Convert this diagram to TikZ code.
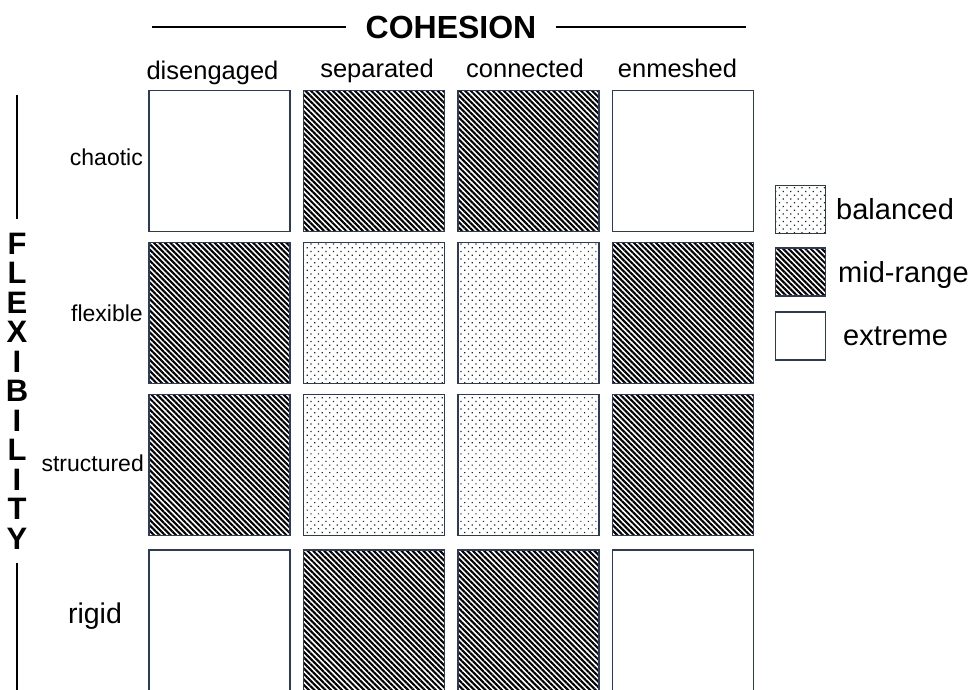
\documentclass[tikz,border=0pt]{standalone}
\usepackage{fontspec}
\setmainfont{Liberation Sans}
\usetikzlibrary{patterns.meta, positioning}
\definecolor{boxedge}{HTML}{2E3A5C}
\definecolor{dotgray}{HTML}{222222}
\tikzset{
  cell/.style={draw=boxedge, line width=1.5pt, minimum width=141pt,
               minimum height=141pt, inner sep=0pt},
  keybox/.style={draw=boxedge, line width=1.5pt, minimum width=50pt,
                 minimum height=48pt, inner sep=0pt},
  balanced/.style={pattern={Dots[angle=45, distance=5.3pt, radius=0.85pt]},
                   pattern color=dotgray},
  midrange/.style={pattern={Lines[angle=-45, distance=3.9pt, line width=2.1pt]},
                   pattern color=black},
  extreme/.style={fill=white},
  collabel/.style={font=\fontsize{25.5}{30}\selectfont, anchor=base, inner sep=0pt},
  rowlabel/.style={font=\fontsize{23}{28}\selectfont, anchor=base east, inner sep=0pt},
  keylabel/.style={font=\fontsize{29}{34}\selectfont, anchor=base west, inner sep=0pt},
  axisline/.style={line width=1.8pt},
}

\begin{document}
\begin{tikzpicture}[x=1pt, y=-1pt]
  \useasboundingbox (0,0) rectangle (972,690);
  % Title
  \node[font=\fontsize{32}{36}\selectfont\bfseries, inner xsep=19pt] (cohesion) at (451,27) {COHESION};
  \coordinate (cohL) at (152,27);
  \coordinate (cohR) at (746,27);
  \draw[axisline] (cohL) -- (cohesion.west);
  \draw[axisline] (cohesion.east) -- (cohR);
  % Side title
  \node[font=\fontsize{31}{29.5}\selectfont\bfseries, align=center, inner ysep=14pt, inner xsep=0pt]
    (flex) at (17,391) {F\\L\\E\\X\\I\\B\\I\\L\\I\\T\\Y};
  \coordinate (flexT) at (17,95);
  \coordinate (flexB) at (17,692);
  \draw[axisline] (flexT) -- (flex.north);
  \draw[axisline] (flex.south) -- (flexB);
  % Column labels
  \node[collabel] (disengaged) at (212.5,80) {disengaged};
  \node[collabel] (separated) at (377,78) {separated};
  \node[collabel] (connected) at (525,78) {connected};
  \node[collabel] (enmeshed) at (677.5,78) {enmeshed};
  % Row labels
  \node[rowlabel] (chaotic) at (143,166) {chaotic};
  \node[rowlabel] (flexible) at (143,321) {flexible};
  \node[rowlabel] (structured) at (144,471) {structured};
  \node[font=\fontsize{28.5}{32}\selectfont, anchor=base, inner sep=0pt] (rigid) at (95,623) {rigid};
  % Grid
  \foreach \r/\y/\kinds in {1/161/{extreme,midrange,midrange,extreme},
                            2/313/{midrange,balanced,balanced,midrange},
                            3/465/{midrange,balanced,balanced,midrange},
                            4/620.5/{extreme,midrange,midrange,extreme}} {
    \foreach \k [count=\c] in \kinds {
      \node[cell, \k] (cell-\r-\c) at ({219.5+(\c-1)*154.5},\y) {};
    }
  }
  % Legend
  \node[keybox, balanced] (keybal) at (800.5,209.5) {};
  \node[keybox, midrange] (keymid) at (800.5,272) {};
  \node[keybox, extreme] (keyext) at (800.5,336) {};
  \node[keylabel] (balancedtxt) at (836,219) {balanced};
  \node[keylabel] (midrangetxt) at (838,282) {mid-range};
  \node[keylabel] (extremetxt) at (843,345) {extreme};
\end{tikzpicture}
\end{document}
